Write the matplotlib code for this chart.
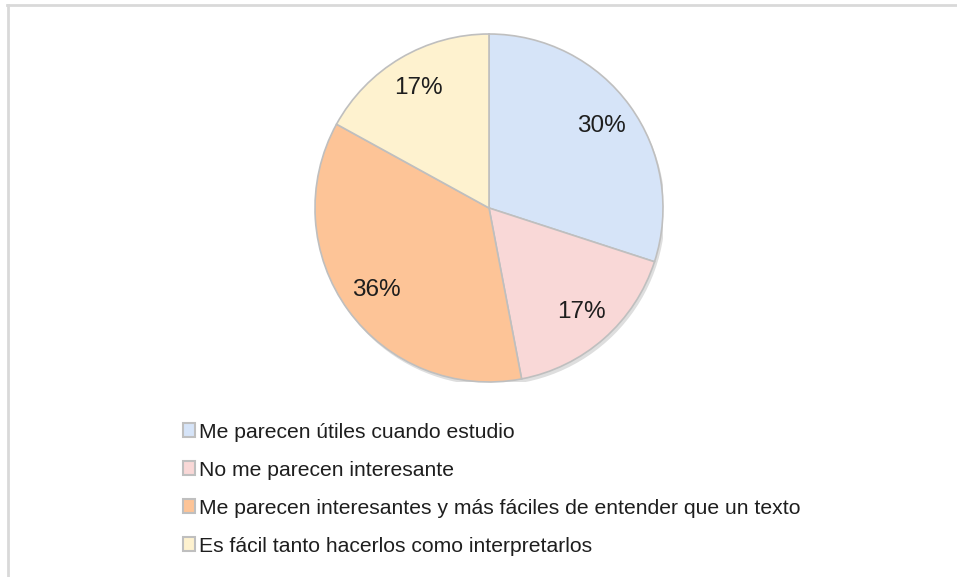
import matplotlib
matplotlib.use('Agg')
import matplotlib.pyplot as plt
from matplotlib.patches import Patch, Circle
from matplotlib.lines import Line2D

labels = ['Me parecen útiles cuando estudio',
          'No me parecen interesante',
          'Me parecen interesantes y más fáciles de entender que un texto',
          'Es fácil tanto hacerlos como interpretarlos']
values = [30, 17, 36, 17]
colors = ['#D6E4F8', '#F9D8D7', '#FDC497', '#FEF2CF']

plt.rcParams['font.family'] = ['Liberation Sans', 'DejaVu Sans']

W, H = 957, 577
fig = plt.figure(figsize=(W / 100, H / 100), dpi=100)

# pie centred at (489, 208) px, radius 174 px
cx, cy, r = 489, 208, 174
ax = fig.add_axes([(cx - r) / W, (H - cy - r) / H, 2 * r / W, 2 * r / H])

# soft shadow behind the pie
ax.add_patch(Circle((0.012, -0.02), 1.0, facecolor='#C8C8C8', edgecolor='none',
                    alpha=0.6, zorder=0))

wedges, texts, autotexts = ax.pie(
    values, colors=colors, startangle=90, counterclock=False,
    autopct='%1.0f%%', pctdistance=0.8,
    wedgeprops=dict(edgecolor='#BFBFBF', linewidth=1.2),
    textprops=dict(fontsize=17.5, color='#1E1E1E'))
ax.set_xlim(-1.0, 1.0)
ax.set_ylim(-1.0, 1.0)
ax.set_aspect('equal')

# frame lines (top and left)
fig.add_artist(Line2D([7.5 / W, 1], [1 - 5 / H, 1 - 5 / H], color='#D9D9D9', lw=2))
fig.add_artist(Line2D([8 / W, 8 / W], [0, 1 - 5 / H], color='#D9D9D9', lw=2))

handles = [Patch(facecolor=c, edgecolor='#BFBFBF', linewidth=1.5) for c in colors]
fig.legend(handles, labels, loc='upper left',
           bbox_to_anchor=(172 / W, 1 - 412 / H), frameon=False,
           fontsize=15.2, handlelength=0.6, handleheight=0.6,
           handletextpad=0.2, labelspacing=0.9, borderpad=0,
           labelcolor='#1E1E1E')

fig.savefig('out.png', dpi=100)
